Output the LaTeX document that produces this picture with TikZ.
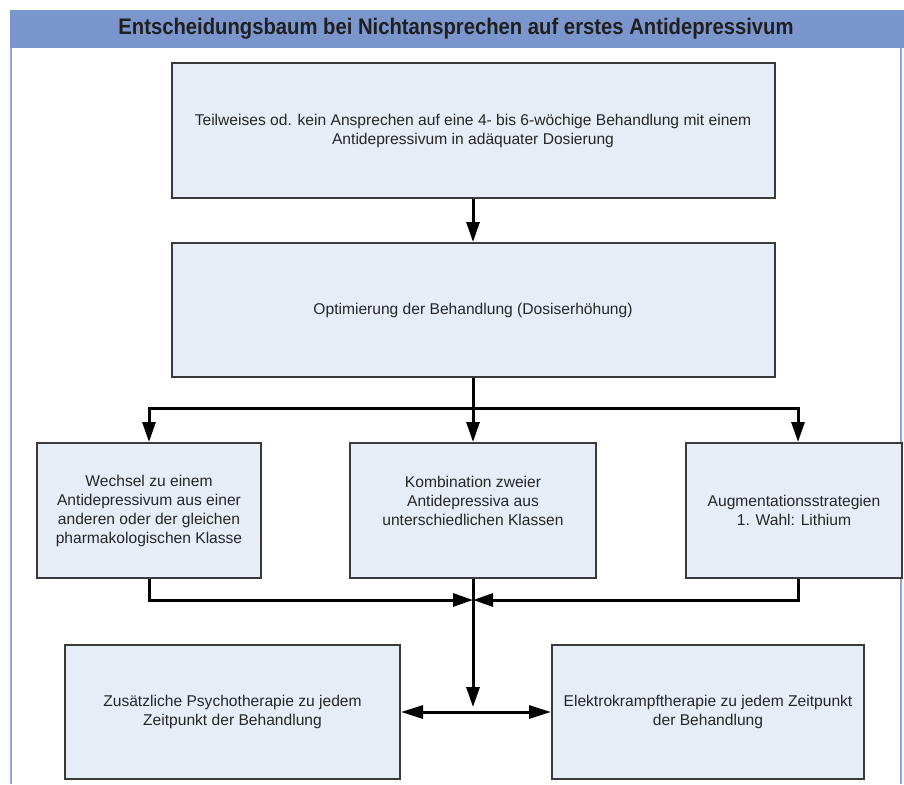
\documentclass[tikz,border=0pt]{standalone}
\usepackage{fontspec}
\setmainfont{Liberation Sans}
\newfontfamily\titlefont{Liberation Sans}[FakeStretch=0.9]
\usetikzlibrary{arrows.meta}
\definecolor{band}{HTML}{7B96CC}
\definecolor{boxfill}{HTML}{E6EDF7}
\definecolor{boxline}{HTML}{3A3A3A}
\definecolor{frameline}{HTML}{8EA6D6}
\begin{document}
\begin{tikzpicture}[x=1pt,y=-1pt,
  stepbox/.style={draw=boxline, line width=2pt, fill=boxfill, inner sep=0pt,
    align=center, font=\fontsize{15.6}{19}\selectfont, text=black!85},
  conn/.style={line width=3pt, -{Triangle[length=20pt,width=13pt]}},
  plainconn/.style={line width=3pt},
  dblconn/.style={line width=3pt, {Triangle[length=22pt,width=13pt]}-{Triangle[length=22pt,width=13pt]}}]
\useasboundingbox (0,0) rectangle (904,784);
\fill[white] (0,0) rectangle (904,784);
\fill[band] (10,10) rectangle (904,48);
\node[font=\titlefont\bfseries\fontsize{22.5}{26}\selectfont, text=black!88, inner sep=0pt] (title) at (456,29)
  {Entscheidungsbaum bei Nichtansprechen auf erstes Antidepressivum};
\draw[frameline, line width=1.5pt] (11,48) -- (11,784) (901,48) -- (901,784);

\node[stepbox, minimum width=603pt, minimum height=135pt] (b1) at (473,130.5)
  {Teilweises od. kein Ansprechen auf eine 4- bis 6-wöchige Behandlung mit einem\\Antidepressivum in adäquater Dosierung};
\node[stepbox, minimum width=603pt, minimum height=134pt] (b2) at (473,310)
  {Optimierung der Behandlung (Dosiserhöhung)};
\node[stepbox, minimum width=224pt, minimum height=135pt] (b3) at (149,510.5)
  {Wechsel zu einem\\Antidepressivum aus einer\\anderen oder der gleichen\\pharmakologischen Klasse};
\node[stepbox, minimum width=246pt, minimum height=135pt] (b4) at (473,510.5)
  {Kombination zweier\\Antidepressiva aus\\unterschiedlichen Klassen\\\mbox{}};
\node[stepbox, minimum width=216pt, minimum height=135pt] (b5) at (794,510.5)
  {Augmentationsstrategien\\1. Wahl: Lithium};
\node[stepbox, minimum width=335pt, minimum height=134pt] (b6) at (232.5,712)
  {Zusätzliche Psychotherapie zu jedem\\Zeitpunkt der Behandlung};
\node[stepbox, minimum width=312pt, minimum height=134pt] (b7) at (708,712)
  {Elektrokrampftherapie zu jedem Zeitpunkt\\der Behandlung};

\coordinate (j1) at (473,408);
\coordinate (j2) at (473,600);
\coordinate (j3) at (473,707);

\draw[conn] (b1.south) -- (b2.north);
\draw[plainconn] (b2.south) -- (j1);
\draw[conn] (j1) -| (b3.north);
\draw[conn] (j1) -- (b4.north);
\draw[conn] (j1) -| ([xshift=4pt]b5.north);
\draw[conn] (b3.south) |- (j2);
\draw[conn] ([xshift=4pt]b5.south) |- (j2);
\draw[conn] (b4.south) -- (j3);
\draw[dblconn] (b6.east) -- (b7.west);
\end{tikzpicture}
\end{document}
